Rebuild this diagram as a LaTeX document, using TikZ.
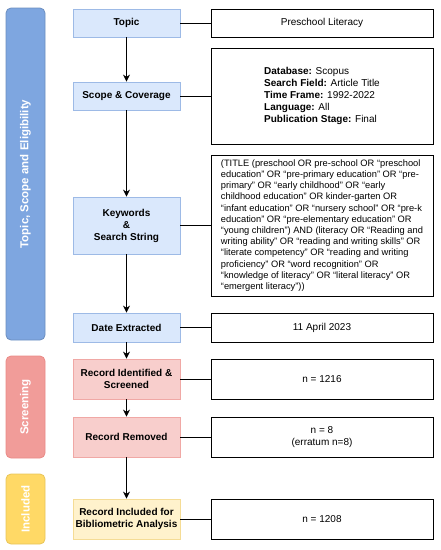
\documentclass[tikz,border=0pt]{standalone}
\usepackage{fontspec}
\setmainfont{Liberation Sans}
\usetikzlibrary{arrows.meta}
\definecolor{bluefill}{HTML}{DAE8FC}
\definecolor{blueline}{HTML}{9DBAE6}
\definecolor{bluebar}{HTML}{7EA6E0}
\definecolor{bluebarline}{HTML}{6C8EBF}
\definecolor{redfill}{HTML}{F8CECC}
\definecolor{redline}{HTML}{F0A8A5}
\definecolor{redbar}{HTML}{F19C99}
\definecolor{redbarline}{HTML}{EA8A86}
\definecolor{yellowfill}{HTML}{FFF2CC}
\definecolor{yellowline}{HTML}{F5DC95}
\definecolor{yellowbar}{HTML}{FFD966}
\definecolor{yellowbarline}{HTML}{E8C55A}
\tikzstyle{every node}=[font=\fontsize{10}{12}\selectfont, inner sep=0pt]
\tikzstyle{stage}=[draw, line width=0.8pt, minimum width=107pt, align=center, font=\fontsize{10}{12}\selectfont\bfseries]
\tikzstyle{info}=[draw=black, line width=0.9pt, minimum width=222pt, align=center]
\tikzstyle{phase}=[rounded corners=5pt, line width=0.8pt, rotate=90, minimum height=39pt, text=white, font=\fontsize{11.5}{13}\selectfont\bfseries]
\tikzstyle{flow}=[-{Stealth[length=7pt,width=7pt]}, line width=0.9pt]
\tikzstyle{link}=[line width=0.9pt]

\begin{document}
\begin{tikzpicture}[x=1pt, y=-1pt]
      \useasboundingbox (0,0) rectangle (441,550);
      % phases
      \node [phase, fill=bluebar, draw=bluebarline, minimum width=332pt] (phaseA) at (25.5,174) {Topic, Scope and Eligibility};
      \node [phase, fill=redbar, draw=redbarline, minimum width=102pt] (phaseB) at (25.5,407) {Screening};
      \node [phase, fill=yellowbar, draw=yellowbarline, minimum width=70pt] (phaseC) at (25.5,509) {Included};
      % steps
      \node [stage, fill=bluefill, draw=blueline, minimum height=28pt] (topic) at (126.5,23) {Topic};
      \node [stage, fill=bluefill, draw=blueline, minimum height=28pt] (scope) at (126.5,96) {Scope \& Coverage};
      \node [stage, fill=bluefill, draw=blueline, minimum height=57pt] (keywords) at (126.5,225.5) {Keywords\\\&\\Search String};
      \node [stage, fill=bluefill, draw=blueline, minimum height=29pt] (date) at (126.5,327.5) {Date Extracted};
      \node [stage, fill=redfill, draw=redline, minimum height=40pt] (identified) at (126.5,379) {Record Identified \&\\Screened};
      \node [stage, fill=redfill, draw=redline, minimum height=40pt] (removed) at (126.5,437) {Record Removed};
      \node [stage, fill=yellowfill, draw=yellowline, minimum height=40pt] (included) at (126.5,519) {Record Included for\\Bibliometric Analysis};
      % details
      \node [info, minimum height=28pt] (topicinfo) at (322,23) {Preschool Literacy};
      \node [info, minimum height=96pt, align=left] (scopeinfo) at (322,96) {%
        \textbf{Database:} Scopus\\
        \textbf{Search Field:} Article Title\\
        \textbf{Time Frame:} 1992-2022\\
        \textbf{Language:} All\\
        \textbf{Publication Stage:} Final};
      \node [info, minimum height=141pt, align=left, font=\fontsize{9.3}{11.2}\selectfont] (keywordsinfo) at (322,225.5) {%
        (TITLE (preschool OR pre-school OR “preschool\\
        education” OR “pre-primary education” OR “pre-\\
        primary” OR “early childhood” OR “early\\
        childhood education” OR kinder-garten OR\\
        “infant education” OR “nursery school” OR “pre-k\\
        education” OR “pre-elementary education” OR\\
        “young children”) AND (literacy OR “Reading and\\
        writing ability” OR “reading and writing skills” OR\\
        “literate competency” OR “reading and writing\\
        proficiency” OR “word recognition” OR\\
        “knowledge of literacy” OR “literal literacy” OR\\
        “emergent literacy”))};
      \node [info, minimum height=29pt] (dateinfo) at (322,327.5) {11 April 2023};
      \node [info, minimum height=40pt] (identifiedinfo) at (322,379) {n = 1216};
      \node [info, minimum height=40pt] (removedinfo) at (322,437) {n = 8\\(erratum n=8)};
      \node [info, minimum height=40pt] (includedinfo) at (322,519) {n = 1208};
      % arrows
      \draw [flow] (topic) -- (scope);
      \draw [flow] (scope) -- (keywords);
      \draw [flow] (keywords) -- (date);
      \draw [flow] (date) -- (identified);
      \draw [flow] (identified) -- (removed);
      \draw [flow] (removed) -- (included);
      % links
      \draw [link] (topic) -- (topicinfo);
      \draw [link] (scope) -- (scopeinfo);
      \draw [link] (keywords) -- (keywordsinfo);
      \draw [link] (date) -- (dateinfo);
      \draw [link] (identified) -- (identifiedinfo);
      \draw [link] (removed) -- (removedinfo);
      \draw [link] (included) -- (includedinfo);
    \end{tikzpicture}
\end{document}
